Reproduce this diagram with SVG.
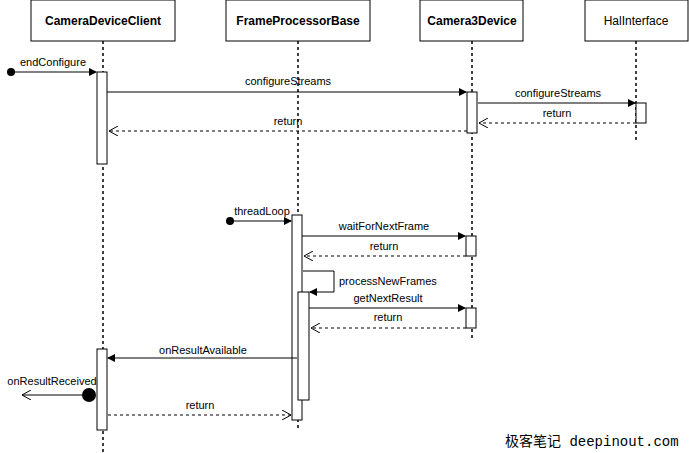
<svg xmlns="http://www.w3.org/2000/svg" width="689" height="453" viewBox="0 0 689 453">
<style>
text{font-family:"Liberation Sans",Arial,sans-serif;font-size:11px;fill:#000;text-anchor:middle}
.h{font-weight:bold;font-size:12px}
.box{fill:#fff;stroke:#000;stroke-width:1}
.life{stroke:#000;stroke-width:1.5;stroke-dasharray:3,3}
.m{stroke:#000;stroke-width:1;fill:none}
.d{stroke:#000;stroke-width:1;fill:none;stroke-dasharray:3,3}
</style>
<defs>
<marker id="f" markerWidth="8" markerHeight="8" refX="7" refY="4" orient="auto" markerUnits="userSpaceOnUse"><path d="M0,0 L8,4 L0,8 Z" fill="#000"/></marker>
<marker id="o" markerWidth="10" markerHeight="10" refX="9" refY="5" orient="auto" markerUnits="userSpaceOnUse"><path d="M0,0 L9,5 L0,10" fill="none" stroke="#000"/></marker>
</defs>
<g id="lifelines">
<line class="life" x1="103" y1="41" x2="103" y2="453"/>
<line class="life" x1="298" y1="41" x2="298" y2="430"/>
<line class="life" x1="472" y1="41" x2="472" y2="340"/>
<line class="life" x1="636" y1="41" x2="636" y2="143"/>
</g>
<g id="CameraDeviceClient"><rect class="box" x="31" y="0" width="144" height="41"/><text class="h" x="103" y="25">CameraDeviceClient</text></g>
<g id="FrameProcessorBase"><rect class="box" x="226" y="0" width="144" height="41"/><text class="h" x="298" y="25">FrameProcessorBase</text></g>
<g id="Camera3Device"><rect class="box" x="420" y="0" width="103" height="41"/><text class="h" x="472" y="25">Camera3Device</text></g>
<g id="HalInterface"><rect class="box" x="585" y="0" width="103" height="41"/><text x="636" y="25" style="font-size:12px">HalInterface</text></g>
<g id="activations">
<rect class="box" x="97" y="72" width="10" height="92"/>
<rect class="box" x="467" y="92" width="10" height="41"/>
<rect class="box" x="636" y="103" width="10" height="20"/>
<rect class="box" x="292" y="215" width="10" height="205"/>
<rect class="box" x="466" y="236" width="10" height="20"/>
<rect class="box" x="298" y="292" width="11" height="108"/>
<rect class="box" x="466" y="308" width="10" height="20"/>
<rect class="box" x="97" y="349" width="10" height="81"/>
</g>
<g id="connectors">
<circle cx="11" cy="72" r="4" fill="#000"/>
<line class="m" x1="11" y1="72" x2="96" y2="72" marker-end="url(#f)"/>
<text x="53" y="66">endConfigure</text>
<line class="m" x1="107" y1="92" x2="466" y2="92" marker-end="url(#f)"/>
<text x="288" y="85">configureStreams</text>
<line class="m" x1="478" y1="103" x2="635" y2="103" marker-end="url(#f)"/>
<text x="558" y="97">configureStreams</text>
<line class="d" x1="636" y1="123" x2="479" y2="123" marker-end="url(#o)"/>
<text x="557" y="117">return</text>
<line class="d" x1="467" y1="131" x2="109" y2="131" marker-end="url(#o)"/>
<text x="288" y="125">return</text>
<circle cx="230" cy="221" r="4" fill="#000"/>
<line class="m" x1="230" y1="221" x2="291" y2="221" marker-end="url(#f)"/>
<text x="262" y="215">threadLoop</text>
<line class="m" x1="302" y1="236" x2="465" y2="236" marker-end="url(#f)"/>
<text x="384" y="230">waitForNextFrame</text>
<line class="d" x1="466" y1="256" x2="304" y2="256" marker-end="url(#o)"/>
<text x="384" y="250">return</text>
<path class="m" d="M303,271 H334 V292 H310" marker-end="url(#f)"/>
<text x="339" y="285" style="text-anchor:start">processNewFrames</text>
<line class="m" x1="309" y1="308" x2="465" y2="308" marker-end="url(#f)"/>
<text x="388" y="302">getNextResult</text>
<line class="d" x1="466" y1="328" x2="311" y2="328" marker-end="url(#o)"/>
<text x="388" y="321">return</text>
<line class="m" x1="297" y1="358" x2="108" y2="358" marker-end="url(#f)"/>
<text x="203" y="354">onResultAvailable</text>
<circle cx="89" cy="395" r="7" fill="#000"/>
<line class="m" x1="89" y1="395" x2="22" y2="395" marker-end="url(#o)"/>
<text x="52" y="385">onResultReceived</text>
<line class="d" x1="108" y1="415" x2="291" y2="415" marker-end="url(#o)"/>
<text x="200" y="409">return</text>
</g>
<text x="505" y="446" style="text-anchor:start;font-family:'Liberation Mono','Noto Sans CJK SC',monospace;font-size:14px">极客笔记 deepinout.com</text>
</svg>
